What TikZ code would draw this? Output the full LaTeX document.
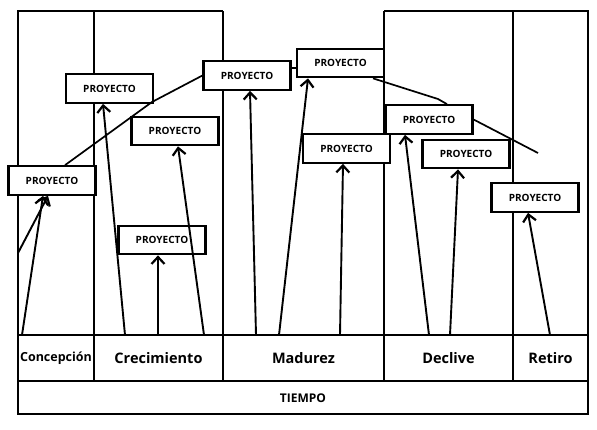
\documentclass[tikz,border=0pt]{standalone}
\usepackage{fontspec}
\setmainfont{Open Sans}
\usetikzlibrary{arrows.meta}

\tikzset{
  proy/.style={draw, line width=2.2pt, fill=white, minimum width=87pt,
    minimum height=28.5pt, inner sep=0pt, font=\bfseries\fontsize{10}{12}\selectfont},
  marco/.style={line width=2.4pt},
  flecha/.style={line width=1.9pt, -{Straight Barb[length=7pt,width=13pt,line width=2.2pt]}},
  curva/.style={line width=1.7pt},
  fase/.style={font=\bfseries\fontsize{14.5}{17}\selectfont},
}

\begin{document}
\begin{tikzpicture}[x=1pt,y=-1pt]
\useasboundingbox (0,0) rectangle (597,429);
% marco y columnas
\draw[marco] (223,11) -- (18,11) -- (18,414) -- (588,414) -- (588,11) -- (384,11);
\draw[marco] (18,335) -- (588,335);
\draw[marco] (18,381) -- (588,381);
\foreach \x in {94,223,384,513}
  \draw[marco] (\x,11) -- (\x,381);

% fases
\node[fase, font=\bfseries\fontsize{12.5}{15}\selectfont] (concepcion) at (56,358) {Concepción};
\node[fase] (crecimiento) at (158.5,358) {Crecimiento};
\node[fase] (madurez) at (303.5,358) {Madurez};
\node[fase] (declive) at (448.5,358) {Declive};
\node[fase] (retiro) at (550.5,358) {Retiro};
\node[fase, font=\bfseries\fontsize{12}{14}\selectfont] (tiempo) at (303,398) {TIEMPO};

% proyectos
\foreach \n/\x/\y in {b1/52/180.5, b2/109.5/88.5, b3/175/131, b4/247/75.5,
    b5/340.5/63, b6/346.5/148.5, b7/429/119.5, b8/466/154, b9/535/197.5, b10/162/240}
  \node[proy] (\n) at (\x,\y) {PROYECTO};

% flechas
\foreach \x/\b/\d [count=\i] in {22/b1/-9, 125/b2/-6.5, 158/b10/-4, 204/b3/3,
    256/b4/3, 279/b5/-32.5, 340/b6/-3.5, 429/b7/-24, 450/b8/-8, 550/b9/-7} {
  \coordinate (s\i) at (\x,335);
  \draw[flecha] (s\i) -- ([xshift=\d pt]\b.south);
}

% curva
\coordinate (inicio) at (18,253);
\coordinate (k1) at (152,102);
\coordinate (k2) at (438,99);
\coordinate (fin) at (538,153);
\draw[flecha] (inicio) -- ([xshift=-4pt]b1.south);
\draw[curva] ([xshift=13pt]b1.north) -- (k1) -- (b4.west);
\draw[curva] ([yshift=7.5pt]b4.east) -- ([yshift=-5pt]b5.west);
\draw[curva] ([xshift=32.5pt]b5.south) -- (k2) -- ([xshift=18pt]b7.north);
\draw[curva] (b7.east) -- (fin);
\end{tikzpicture}
\end{document}
